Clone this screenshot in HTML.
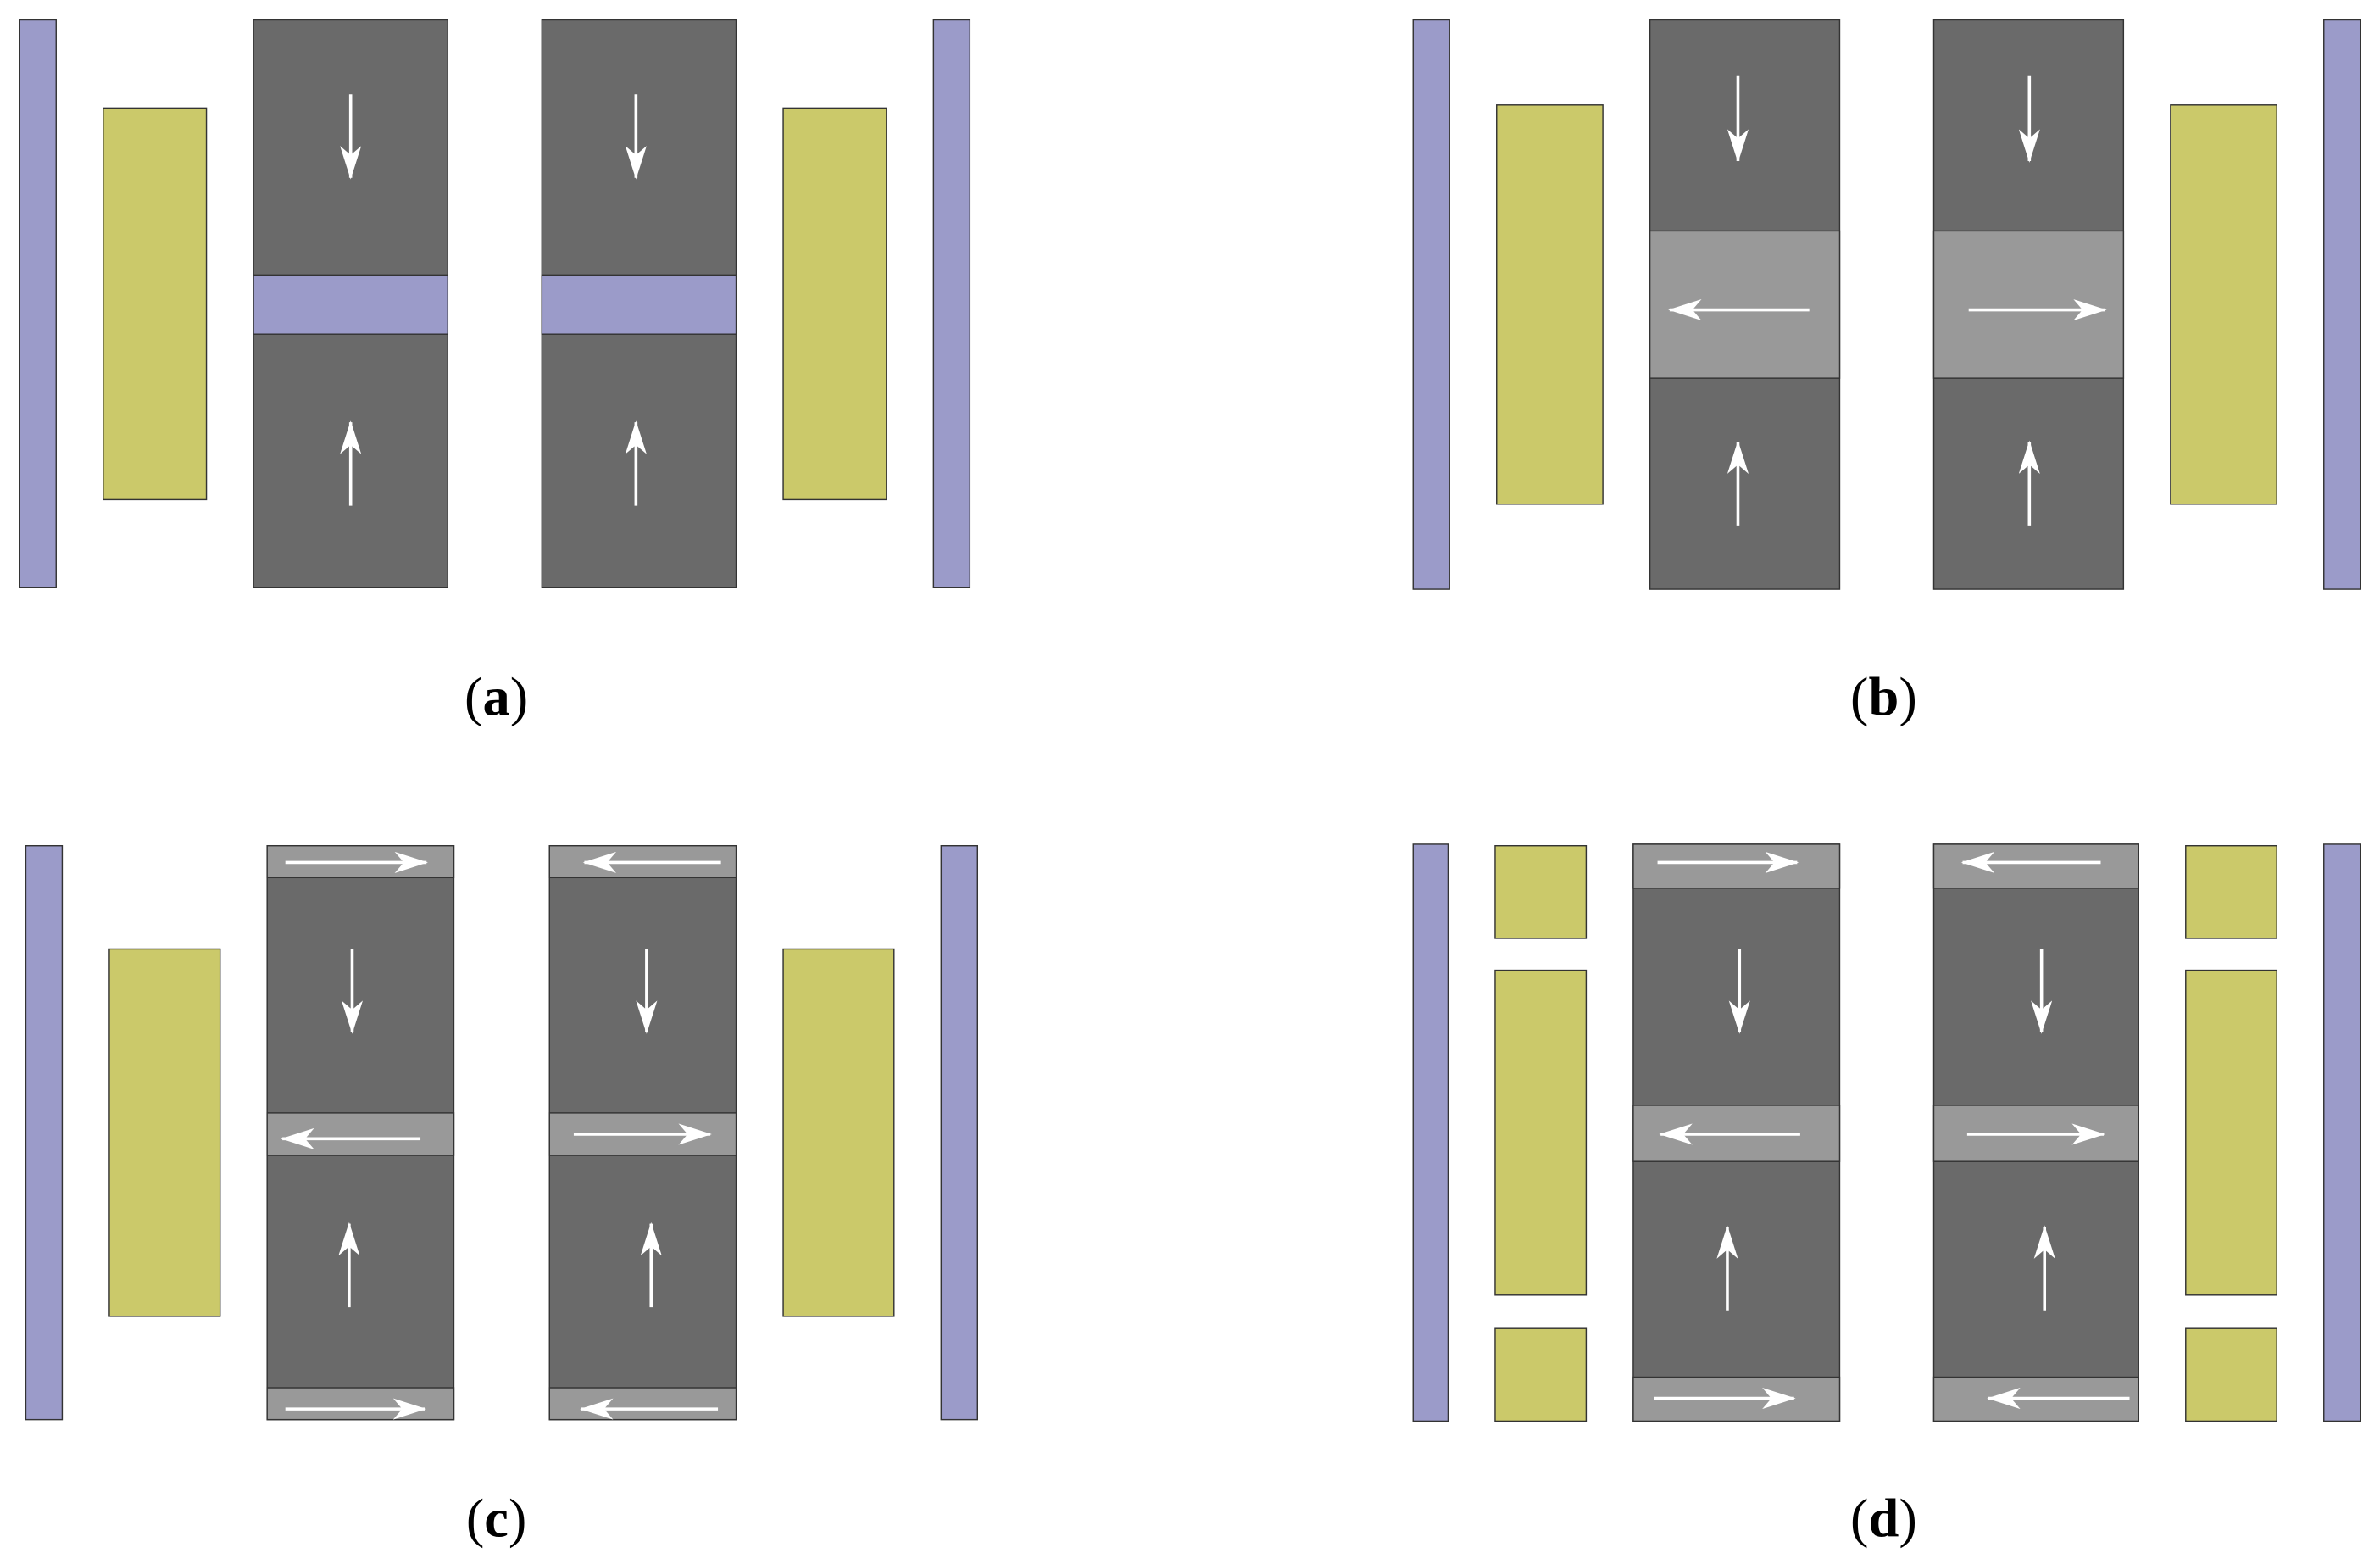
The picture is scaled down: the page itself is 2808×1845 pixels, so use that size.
<!DOCTYPE html>
<html><head><meta charset="utf-8"><style>
html,body{margin:0;padding:0;background:#fff;}
svg{display:block;}
</style></head><body>
<svg width="2808" height="1845" viewBox="0 0 1568 1030" xmlns="http://www.w3.org/2000/svg">
<defs>
<marker id="ah" viewBox="0 0 22 14" refX="21" refY="7" markerWidth="22" markerHeight="14" markerUnits="userSpaceOnUse" orient="auto">
<path d="M0,0 L22,7 L0,14 L6,7 Z" fill="#fff"/>
</marker>
</defs>
<g stroke="#333" stroke-width="0.8">
<rect x="13" y="13" width="24" height="374" fill="#9b9bc9"/>
<rect x="68" y="71" width="68" height="258" fill="#cbc96a"/>
<rect x="167" y="13" width="128" height="374" fill="#6a6a6a"/>
<rect x="167" y="181" width="128" height="39" fill="#9b9bc9"/>
<rect x="357" y="13" width="128" height="374" fill="#6a6a6a"/>
<rect x="357" y="181" width="128" height="39" fill="#9b9bc9"/>
<rect x="516" y="71" width="68" height="258" fill="#cbc96a"/>
<rect x="615" y="13" width="24" height="374" fill="#9b9bc9"/>
<rect x="931" y="13" width="24" height="375" fill="#9b9bc9"/>
<rect x="986" y="69" width="70" height="263" fill="#cbc96a"/>
<rect x="1087" y="13" width="125" height="375" fill="#6a6a6a"/>
<rect x="1087" y="152" width="125" height="97" fill="#999"/>
<rect x="1274" y="13" width="125" height="375" fill="#6a6a6a"/>
<rect x="1274" y="152" width="125" height="97" fill="#999"/>
<rect x="1430" y="69" width="70" height="263" fill="#cbc96a"/>
<rect x="1531" y="13" width="24" height="375" fill="#9b9bc9"/>
<rect x="17" y="557" width="24" height="378" fill="#9b9bc9"/>
<rect x="72" y="625" width="73" height="242" fill="#cbc96a"/>
<rect x="176" y="557" width="123" height="378" fill="#6a6a6a"/>
<rect x="176" y="557" width="123" height="21" fill="#999"/>
<rect x="176" y="733" width="123" height="28" fill="#999"/>
<rect x="176" y="914" width="123" height="21" fill="#999"/>
<rect x="362" y="557" width="123" height="378" fill="#6a6a6a"/>
<rect x="362" y="557" width="123" height="21" fill="#999"/>
<rect x="362" y="733" width="123" height="28" fill="#999"/>
<rect x="362" y="914" width="123" height="21" fill="#999"/>
<rect x="516" y="625" width="73" height="242" fill="#cbc96a"/>
<rect x="620" y="557" width="24" height="378" fill="#9b9bc9"/>
<rect x="931" y="556" width="23" height="380" fill="#9b9bc9"/>
<rect x="985" y="557" width="60" height="61" fill="#cbc96a"/>
<rect x="985" y="639" width="60" height="214" fill="#cbc96a"/>
<rect x="985" y="875" width="60" height="61" fill="#cbc96a"/>
<rect x="1076" y="556" width="136" height="380" fill="#6a6a6a"/>
<rect x="1076" y="556" width="136" height="29" fill="#999"/>
<rect x="1076" y="728" width="136" height="37" fill="#999"/>
<rect x="1076" y="907" width="136" height="29" fill="#999"/>
<rect x="1274" y="556" width="135" height="380" fill="#6a6a6a"/>
<rect x="1274" y="556" width="135" height="29" fill="#999"/>
<rect x="1274" y="728" width="135" height="37" fill="#999"/>
<rect x="1274" y="907" width="135" height="29" fill="#999"/>
<rect x="1440" y="557" width="60" height="61" fill="#cbc96a"/>
<rect x="1440" y="639" width="60" height="214" fill="#cbc96a"/>
<rect x="1440" y="875" width="60" height="61" fill="#cbc96a"/>
<rect x="1531" y="556" width="24" height="380" fill="#9b9bc9"/>
</g>
<g stroke="#fff" stroke-width="2" marker-end="url(#ah)">
<line x1="231" y1="62" x2="231" y2="117"/>
<line x1="231" y1="333" x2="231" y2="278"/>
<line x1="419" y1="62" x2="419" y2="117"/>
<line x1="419" y1="333" x2="419" y2="278"/>
<line x1="1145" y1="50" x2="1145" y2="106"/>
<line x1="1192" y1="204" x2="1100" y2="204"/>
<line x1="1145" y1="346" x2="1145" y2="291"/>
<line x1="1337" y1="50" x2="1337" y2="106"/>
<line x1="1297" y1="204" x2="1387" y2="204"/>
<line x1="1337" y1="346" x2="1337" y2="291"/>
<line x1="188" y1="568" x2="281" y2="568"/>
<line x1="232" y1="625" x2="232" y2="680"/>
<line x1="277" y1="750" x2="186" y2="750"/>
<line x1="230" y1="861" x2="230" y2="806"/>
<line x1="188" y1="928" x2="280" y2="928"/>
<line x1="475" y1="568" x2="385" y2="568"/>
<line x1="426" y1="625" x2="426" y2="680"/>
<line x1="378" y1="747" x2="468" y2="747"/>
<line x1="429" y1="861" x2="429" y2="806"/>
<line x1="473" y1="928" x2="383" y2="928"/>
<line x1="1092" y1="568" x2="1184" y2="568"/>
<line x1="1146" y1="625" x2="1146" y2="680"/>
<line x1="1186" y1="747" x2="1094" y2="747"/>
<line x1="1138" y1="863" x2="1138" y2="808"/>
<line x1="1090" y1="921" x2="1182" y2="921"/>
<line x1="1384" y1="568" x2="1293" y2="568"/>
<line x1="1345" y1="625" x2="1345" y2="680"/>
<line x1="1296" y1="747" x2="1386" y2="747"/>
<line x1="1347" y1="863" x2="1347" y2="808"/>
<line x1="1403" y1="921" x2="1310" y2="921"/>
</g>
<g font-family="Liberation Serif, serif" font-size="36" text-anchor="middle" fill="#000">
<text x="327" y="471">(<tspan font-weight="bold">a</tspan>)</text>
<text x="1241" y="471">(<tspan font-weight="bold">b</tspan>)</text>
<text x="327" y="1012">(<tspan font-weight="bold">c</tspan>)</text>
<text x="1241" y="1012">(<tspan font-weight="bold">d</tspan>)</text>
</g>
</svg>
</body></html>
